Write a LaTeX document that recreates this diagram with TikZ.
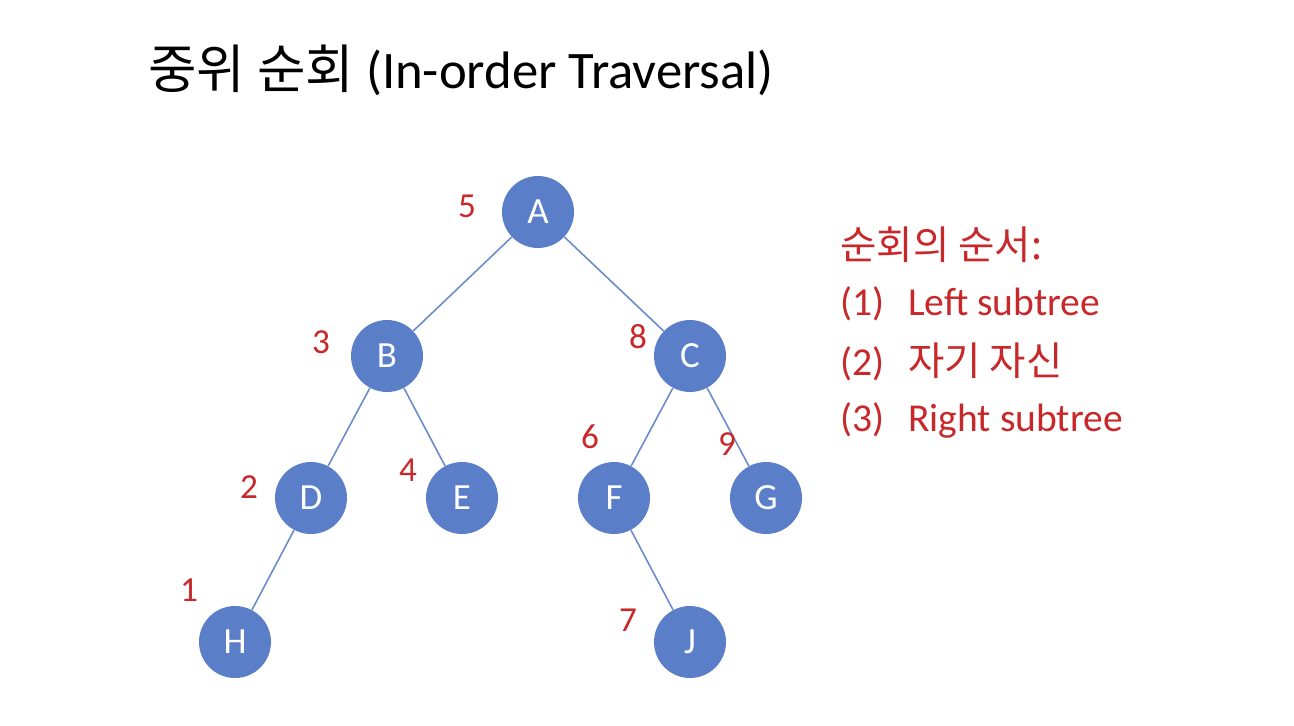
\documentclass[tikz,border=0pt]{standalone}
\usepackage{fontspec}
\setmainfont{Carlito}
\newfontfamily\kr{Noto Sans CJK KR}
\definecolor{nodeblue}{HTML}{5A7EC8}
\definecolor{edgeblue}{HTML}{6A8CCB}
\definecolor{ordred}{HTML}{C8282A}
\begin{document}
\begin{tikzpicture}[x=0.02cm,y=-0.02cm,
  tnode/.style={circle,fill=nodeblue,minimum size=1.44cm,inner sep=0pt,text=white,font=\fontsize{21}{24}\selectfont},
  ord/.style={text=ordred,font=\fontsize{20}{24}\selectfont,inner sep=0pt},
  edge/.style={draw=edgeblue,line width=0.9pt},
  rt/.style={text=ordred,font=\fontsize{22.5}{27}\selectfont,anchor=west,inner sep=0pt}]
\useasboundingbox[fill=white] (0,0) rectangle (1294,726);
\node[anchor=west,inner sep=0pt,font=\fontsize{30}{36}\selectfont] (title) at (148,70) {{\kr 중위 순회} (In-order Traversal)};
\node[tnode] (A) at (538,212) {A};
\node[tnode] (B) at (387,356) {B};
\node[tnode] (C) at (690,356) {C};
\node[tnode] (D) at (311,498) {D};
\node[tnode] (E) at (462,498) {E};
\node[tnode] (F) at (614,498) {F};
\node[tnode] (G) at (766,498) {G};
\node[tnode] (H) at (235,642) {H};
\node[tnode] (J) at (690,642) {J};
\draw[edge] (A)--(B); \draw[edge] (A)--(C);
\draw[edge] (B)--(D); \draw[edge] (B)--(E);
\draw[edge] (C)--(F); \draw[edge] (C)--(G);
\draw[edge] (D)--(H); \draw[edge] (F)--(J);
\node[ord] (o5) at (467,206) {5};
\node[ord] (o3) at (321,342) {3};
\node[ord] (o8) at (638,337) {8};
\node[ord] (o2) at (249,487) {2};
\node[ord] (o4) at (408,470) {4};
\node[ord] (o6) at (590,437) {6};
\node[ord] (o9) at (727,444) {9};
\node[ord] (o1) at (189,590) {1};
\node[ord] (o7) at (628,620) {7};
\node[rt] (r0) at (840,245) {\kr 순회의 순서:};
\node[rt] (r1) at (840,304) {\makebox[1.36cm][l]{(1)}Left subtree};
\node[rt] (r2) at (840,362) {\makebox[1.36cm][l]{(2)}{\kr 자기 자신}};
\node[rt] (r3) at (840,420) {\makebox[1.36cm][l]{(3)}Right subtree};
\end{tikzpicture}
\end{document}
